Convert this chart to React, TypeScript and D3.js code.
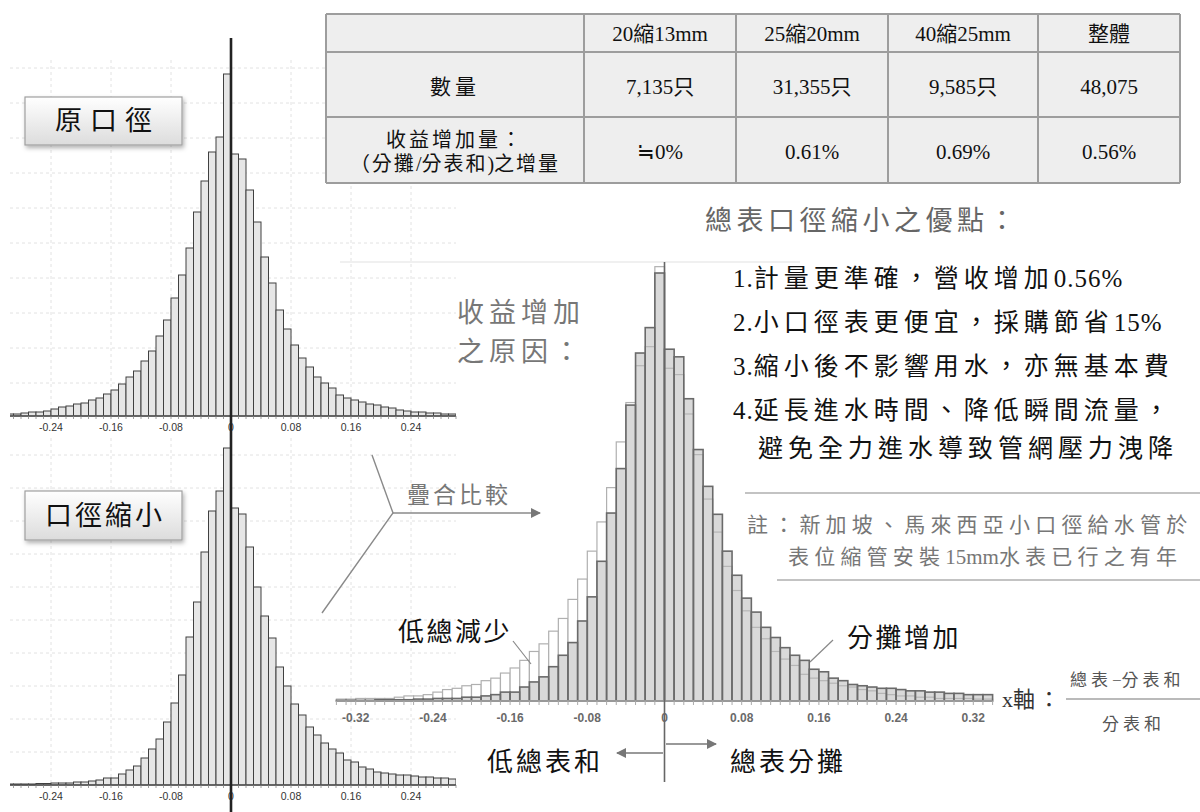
import React from "react";
import * as d3 from "d3";

// ---------- DATA ----------
// histogram bins: lower edges from -0.34 to 0.33, width 0.01
const binWidth = 0.01;
const binStarts = d3.range(-34, 34).map((i) => i / 100);

// 原口徑 distribution (relative frequency, arbitrary units)
const originalFreq = [
  1.5, 1.5, 2, 2, 2, 2, 3, 4, 4, 5, 7, 9, 10, 12, 13, 16, 18, 22, 26, 32, 39, 45, 55, 65, 80, 96, 118, 141, 168, 204, 235, 264, 279, 342,
  262, 257, 226, 194, 159, 133, 106, 87, 71, 58, 49, 39, 33, 28, 21, 18, 16, 14, 12, 11, 9, 8, 6, 5, 4, 4, 3, 3, 2, 2, 2, 2, 1.5, 1.5,
];
// 口徑縮小 distribution
const reducedFreq = [
  0.5, 0.5, 0.5, 0.5, 1, 1, 1, 1, 1.5, 1.5, 2, 2, 2, 3, 3, 4, 5, 7, 7, 11, 15, 19, 27, 36, 46, 63, 82, 110, 148, 183, 233, 274, 294, 337,
  277, 271, 238, 198, 169, 147, 118, 99, 81, 70, 58, 50, 42, 36, 32, 25, 23, 18, 16, 13, 12, 11, 10, 10, 9, 8, 8, 7, 7, 6, 6, 5, 5, 5,
];

const smallTicks = [-0.24, -0.16, -0.08, 0, 0.08, 0.16, 0.24];
const overlayTicks = [-0.32, -0.24, -0.16, -0.08, 0, 0.08, 0.16, 0.24, 0.32];

const tableHeader = ["", "20縮13mm", "25縮20mm", "40縮25mm", "整體"];
const countRow = ["數量", "7,135只", "31,355只", "9,585只", "48,075"];
const gainRowLabel = ["收益增加量：", "（分攤/分表和)之增量"];
const gainRow = ["≒0%", "0.61%", "0.69%", "0.56%"];

const headline = "總表口徑縮小之優點：";
const advantages = [
  "1.計量更準確，營收增加0.56%",
  "2.小口徑表更便宜，採購節省15%",
  "3.縮小後不影響用水，亦無基本費",
  "4.延長進水時間、降低瞬間流量，",
  "避免全力進水導致管網壓力洩降",
];
const notes = ["註：新加坡、馬來西亞小口徑給水管於", "表位縮管安裝15mm水表已行之有年"];

// ---------- STYLE ----------
const SERIF = "'Liberation Serif', 'Noto Sans CJK TC', serif";
const SANS = "'Liberation Sans', Arial, sans-serif";
const CJK_RE = /[\u2E80-\u9FFF\u3000-\u303F\uFF00-\uFFEF\u2252]+|[^\u2E80-\u9FFF\u3000-\u303F\uFF00-\uFFEF\u2252]+/g;
const isCJK = (s: string) => /[\u2E80-\u9FFF\u3000-\u303F\uFF00-\uFFEF\u2252]/.test(s);

function SpacedText({ x, y, text, size, spacing = 0, latinSpacing = 0, fill = "#111", anchor = "start" }: any) {
  const runs = text.match(CJK_RE) || [];
  return (
    <text x={x} y={y} fontSize={size} fill={fill} textAnchor={anchor} dominantBaseline="central" fontFamily={SERIF}>
      {runs.map((r: string, i: number) => (
        <tspan key={i} style={{ letterSpacing: `${isCJK(r) ? spacing : latinSpacing}px` }}>
          {r}
        </tspan>
      ))}
    </text>
  );
}

const fmtTick = (t: number) => String(t);

// ---------- SMALL HISTOGRAM ----------
function SmallHist({ baseline, values, gridStep, gridTop, clipId }: any) {
  const x = d3.scaleLinear().domain([-0.3, 0.3]).range([6, 456]);
  const y = d3.scaleLinear().domain([0, 350]).range([baseline, baseline - 350]);
  const left = 10;
  const right = 456;
  const gridVals = d3.range(33, 350, gridStep).filter((v) => y(v) > gridTop);
  const minor = d3.range(-29, 31).map((i) => i / 100);
  return (
    <g>
      <clipPath id={clipId}>
        <rect x={left} y={0} width={right - left} height={baseline + 1} />
      </clipPath>
      {gridVals.map((v, i) => (
        <line key={"h" + i} x1={left} x2={right} y1={y(v)} y2={y(v)} stroke="#e2e2e2" strokeDasharray="3,3" />
      ))}
      {smallTicks.filter((t) => t !== 0).map((t, i) => (
        <line key={"v" + i} x1={x(t)} x2={x(t)} y1={gridTop} y2={baseline} stroke="#e2e2e2" strokeDasharray="3,3" />
      ))}
      <g clipPath={`url(#${clipId})`}>
        {binStarts.map((b, i) =>
          b >= -0.305 && b < 0.295 ? (
            <rect
              key={i}
              x={x(b)}
              y={y(values[i])}
              width={x(b + binWidth) - x(b)}
              height={baseline - y(values[i])}
              fill="#e6e6e6"
              stroke="#404040"
              strokeWidth={1}
            />
          ) : null
        )}
      </g>
      <line x1={left} x2={right} y1={baseline} y2={baseline} stroke="#555" strokeWidth={1.5} />
      {minor.map((t, i) => (
        <line key={"m" + i} x1={x(t)} x2={x(t)} y1={baseline} y2={baseline + 3} stroke="#888" strokeWidth={0.8} />
      ))}
      {smallTicks.map((t, i) => (
        <text key={"t" + i} x={x(t)} y={baseline + 15} fontSize={10.5} fontFamily={SANS} fill="#333" textAnchor="middle">
          {fmtTick(t)}
        </text>
      ))}
    </g>
  );
}

// ---------- OVERLAY HISTOGRAM ----------
function OverlayHist() {
  const baseline = 701;
  const x = d3.scaleLinear().domain([-0.34, 0.34]).range([336.4, 992.6]);
  const y = d3.scaleLinear().domain([0, 350]).range([baseline, baseline - 350 * 1.27]);
  const minor = d3.range(-34, 35).map((i) => i / 100);
  return (
    <g>
      {binStarts.map((b, i) => (
        <rect
          key={"o" + i}
          x={x(b)}
          y={y(originalFreq[i])}
          width={x(b + binWidth) - x(b)}
          height={baseline - y(originalFreq[i])}
          fill="#ffffff"
          stroke="#b0b0b0"
          strokeWidth={1.2}
        />
      ))}
      {binStarts.map((b, i) => (
        <rect
          key={"r" + i}
          x={x(b)}
          y={y(reducedFreq[i])}
          width={x(b + binWidth) - x(b)}
          height={baseline - y(reducedFreq[i])}
          fill="rgba(185,185,185,0.55)"
          stroke="#6a6a6a"
          strokeWidth={1.6}
        />
      ))}
      <line x1={x(-0.34)} x2={x(0.34)} y1={baseline} y2={baseline} stroke="#999" strokeWidth={2} />
      {minor.map((t, i) => (
        <line key={"m" + i} x1={x(t)} x2={x(t)} y1={baseline} y2={baseline + 4} stroke="#aaa" strokeWidth={1} />
      ))}
      {overlayTicks.map((t, i) => (
        <text key={"t" + i} x={x(t)} y={baseline + 21} fontSize={12} fontWeight="bold" fontFamily={SANS} fill="#6a6a6a" textAnchor="middle">
          {fmtTick(t)}
        </text>
      ))}
      <line x1={x(0)} x2={x(0)} y1={262} y2={782} stroke="#666" strokeWidth={1.6} />
    </g>
  );
}

// ---------- TABLE ----------
function InfoTable() {
  const rowsY = [14, 52, 117, 183];
  const colsX = [326, 584, 736, 888, 1038, 1180];
  const cx = (c: number) => (colsX[c] + colsX[c + 1]) / 2;
  return (
    <g>
      <rect x={colsX[0]} y={rowsY[0]} width={colsX[5] - colsX[0]} height={rowsY[3] - rowsY[0]} fill="#eeeeee" />
      {rowsY.map((yy, i) => (
        <line key={"r" + i} x1={colsX[0]} x2={colsX[5]} y1={yy} y2={yy} stroke="#9d9d9d" strokeWidth={2} />
      ))}
      {colsX.map((xx, i) => (
        <line key={"c" + i} x1={xx} x2={xx} y1={rowsY[0]} y2={rowsY[3]} stroke="#9d9d9d" strokeWidth={2} />
      ))}
      {tableHeader.map((t, i) => (
        <SpacedText key={"h" + i} x={cx(i)} y={34} text={t} size={21} spacing={0} anchor="middle" fill="#111" />
      ))}
      {countRow.map((t, i) => (
        <SpacedText key={"n" + i} x={cx(i)} y={87} text={t} size={21} spacing={i === 0 ? 4 : 0} anchor="middle" fill="#111" />
      ))}
      <SpacedText x={cx(0)} y={140} text={gainRowLabel[0]} size={20} spacing={3} anchor="middle" fill="#111" />
      <SpacedText x={cx(0)} y={164} text={gainRowLabel[1]} size={20} spacing={2} anchor="middle" fill="#111" />
      {gainRow.map((t, i) => (
        <SpacedText key={"g" + i} x={cx(i + 1)} y={152} text={t} size={21} anchor="middle" fill="#111" />
      ))}
    </g>
  );
}

function LabelBox({ x, y, w, h, text, spacing }: any) {
  return (
    <g>
      <rect x={x} y={y} width={w} height={h} fill="url(#boxGrad)" stroke="#a0a0a0" strokeWidth={1.2} filter="url(#shadow)" />
      <SpacedText x={x + w / 2 + spacing / 2} y={y + h / 2} text={text} size={27} spacing={spacing} anchor="middle" fill="#111" />
    </g>
  );
}

export default function App() {
  const xSmallZero = d3.scaleLinear().domain([-0.3, 0.3]).range([6, 456])(0);
  return (
    <svg width={1200} height={812} style={{ position: "absolute", left: 0, top: 0, background: "#fff" }}>
      <defs>
        <linearGradient id="boxGrad" x1="0" y1="0" x2="0" y2="1">
          <stop offset="0" stopColor="#ffffff" />
          <stop offset="1" stopColor="#dcdcdc" />
        </linearGradient>
        <filter id="shadow" x="-10%" y="-10%" width="130%" height="140%">
          <feDropShadow dx="1.5" dy="2.5" stdDeviation="2" floodColor="#000" floodOpacity="0.3" />
        </filter>
        <marker id="arrowGray" viewBox="0 0 10 10" refX="9" refY="5" markerWidth="10" markerHeight="10" markerUnits="userSpaceOnUse" orient="auto">
          <path d="M0,0 L10,5 L0,10 z" fill="#777" />
        </marker>
      </defs>

      <rect x={0} y={0} width={1200} height={812} fill="#fff" />
      <line x1={340} x2={800} y1={262} y2={262} stroke="#f0f0f0" strokeWidth={2} />

      {/* small histograms */}
      <SmallHist baseline={416} values={originalFreq} gridStep={35} gridTop={60} clipId="clipTop" />
      <SmallHist baseline={785} values={reducedFreq} gridStep={33} gridTop={438} clipId="clipBottom" />
      <line x1={xSmallZero} x2={xSmallZero} y1={38} y2={812} stroke="#222" strokeWidth={2.6} />

      <LabelBox x={25} y={97} w={157} h={48} text="原口徑" spacing={8} />
      <LabelBox x={25} y={491} w={157} h={49} text="口徑縮小" spacing={3} />

      {/* table */}
      <InfoTable />

      {/* overlay histogram */}
      <OverlayHist />

      {/* comparison arrow */}
      <polyline points="372,455 393,513 322,613" fill="none" stroke="#8a8a8a" strokeWidth={1.4} />
      <line x1={393} y1={513} x2={540} y2={513} stroke="#8a8a8a" strokeWidth={1.4} markerEnd="url(#arrowGray)" />
      <SpacedText x={407} y={495} text="疊合比較" size={23} spacing={3} fill="#777" />

      <SpacedText x={457} y={313} text="收益增加" size={27} spacing={5} fill="#777" />
      <SpacedText x={457} y={352} text="之原因：" size={27} spacing={5} fill="#777" />

      {/* annotations */}
      <SpacedText x={398} y={632} text="低總減少" size={26} spacing={2.5} fill="#111" />
      <line x1={513} y1={641} x2={531} y2={664} stroke="#888" strokeWidth={1.2} />
      <SpacedText x={847} y={638} text="分攤增加" size={26} spacing={2.5} fill="#111" />
      <line x1={833} y1={640} x2={810} y2={662} stroke="#888" strokeWidth={1.2} />

      {/* bottom direction arrows */}
      <line x1={663} y1={753} x2={617} y2={753} stroke="#777" strokeWidth={1.5} markerEnd="url(#arrowGray)" />
      <line x1={666} y1={744} x2={716} y2={744} stroke="#777" strokeWidth={1.5} markerEnd="url(#arrowGray)" />
      <SpacedText x={487} y={762} text="低總表和" size={26} spacing={3} fill="#111" />
      <SpacedText x={730} y={762} text="總表分攤" size={26} spacing={3} fill="#111" />

      {/* x axis formula */}
      <SpacedText x={1002} y={699} text="x軸：" size={22} spacing={3} fill="#333" />
      <SpacedText x={1070} y={680} text="總表−分表和" size={17} spacing={4} fill="#555" />
      <line x1={1066} x2={1200} y1={699} y2={699} stroke="#777" strokeWidth={1.2} />
      <SpacedText x={1102} y={724} text="分表和" size={17} spacing={4} fill="#555" />

      {/* advantages */}
      <SpacedText x={705} y={221} text={headline} size={27} spacing={4.5} fill="#666" />
      {advantages.map((t, i) => (
        <SpacedText
          key={i}
          x={i === 4 ? 758 : 733}
          y={[278, 322, 366, 410, 448][i]}
          text={t}
          size={25}
          spacing={5}
          latinSpacing={1}
          fill="#111"
        />
      ))}
      <line x1={745} x2={1200} y1={493} y2={493} stroke="#888" strokeWidth={1.2} />
      <SpacedText x={747} y={525} text={notes[0]} size={21} spacing={5.2} fill="#777" />
      <SpacedText x={788} y={557} text={notes[1]} size={21} spacing={5.2} latinSpacing={0} fill="#777" />
      <line x1={777} x2={1200} y1={580} y2={580} stroke="#888" strokeWidth={1.2} />
    </svg>
  );
}
